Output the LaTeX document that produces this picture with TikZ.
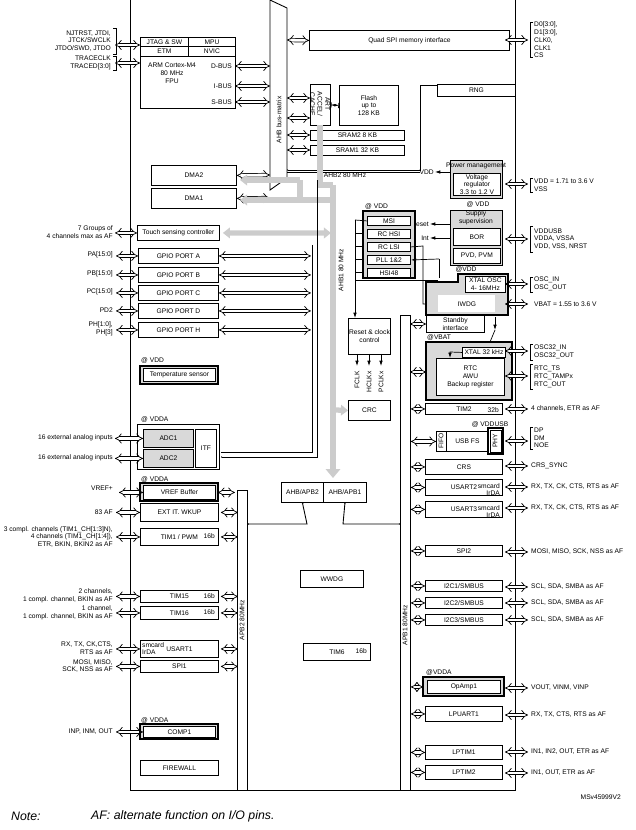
\documentclass[tikz,border=0pt]{standalone}
\usepackage{fontspec}
\setmainfont{Liberation Sans}
\usetikzlibrary{arrows.meta,positioning}
\tikzset{
  every node/.style={font=\fontsize{3.8}{4.4}\selectfont,inner sep=0.5pt},
  blk/.style={draw,line width=0.5pt,fill=white,align=center,inner sep=0pt},
  gblk/.style={draw,line width=0.8pt,fill=gray!30},
  dbl/.style={double distance=1.6pt,line width=0.4pt,{Implies[]}-{Implies[]}},
  gbus/.style={line width=3pt,gray!40},
  sig/.style={line width=0.4pt,-{Latex[length=3pt,width=2pt]}},
  lab/.style={anchor=east,align=right},
  rlab/.style={anchor=west,align=left},
}
% block: [options]{name}{x}{y}{width}{height}{text}
\newcommand\blk[7][]{\node[blk,anchor=north west,minimum width={#5*0.02cm},minimum height={#6*0.02cm},#1] (#2) at (#3,#4) {#7};}

\begin{document}
\begin{tikzpicture}[x=0.02cm,y=-0.02cm]
\useasboundingbox (0,0) rectangle (635,830);
  % chip outline
  \draw[line width=0.5pt] (130,-2) -- (130,790) -- (515,790) -- (515,-2);

  % core and bus matrix
  \blk{jtag}{140}{37}{48}{9}{JTAG \& SW}
  \blk{mpu}{188}{37}{47}{9}{MPU}
  \blk{etm}{140}{46}{48}{10}{ETM}
  \blk{nvic}{188}{46}{47}{10}{NVIC}
  \blk{core}{140}{56}{95}{52}{}
  \node[align=center] at (172,73) {ARM Cortex-M4\\80 MHz\\FPU};
  \node[anchor=east] (dbus) at (233,66) {D-BUS};
  \node[anchor=east] (ibus) at (233,86) {I-BUS};
  \node[anchor=east] (sbus) at (233,102) {S-BUS};
  \draw[line width=0.5pt,fill=white] (270,0) -- (287,8) -- (287,178) -- (270,190) -- cycle;
  \node[rotate=90] (ahbm) at (279,120) {AHB bus-matrix};
  \foreach \y in {66,86,102} \draw[dbl] (235,\y) -- (270,\y);

  \blk{qspi}{309}{30}{200}{20}{Quad SPI memory interface}
  \draw[dbl] (287,40) -- (qspi.west);
  \blk{art}{310}{84}{20}{41}{}
  \node[rotate=-90,align=center] at (320,104) {ART\\ACCEL/\\CACHE};
  \blk{flash}{339}{85}{59}{40}{Flash\\up to\\128 KB}
  \draw[line width=0.4pt,{Bar[width=3pt]Latex[length=2pt]}-{Latex[length=2pt]Bar[width=3pt]}] (art.east) -- (flash.west);
  \blk{sram2}{310}{130}{94}{10}{SRAM2 8 KB}
  \blk{sram1}{310}{145}{94}{10}{SRAM1 32 KB}
  \foreach \y in {98,118,135,150} \draw[dbl] (287,\y) -- (310,\y);
  \blk{rng}{437}{84}{78}{12}{RNG}
  \draw[line width=0.5pt,{Implies[]}-] (287,170) -- (420,170) -- (420,85) -- (437,85);
  \draw[line width=0.5pt] (287,172) -- (420,172);
  \node[anchor=north] at (345,172) {AHB2 80 MHz};

  \blk{dma2}{151}{165}{85}{20}{DMA2}
  \blk{dma1}{151}{188}{85}{20}{DMA1}
  \draw[dbl] (dma2.east) -- (270,175);
  \draw[dbl] (dma1.east) -- (270,198);

  % AHB1 gray bus
  \draw[gbus,-{Triangle[length=5pt,width=8pt]}] (333,185) -- (333,478);
  \draw[gbus] (320,125) -- (320,185) -- (333,185);
  \draw[gbus] (300,180) -- (300,200) -- (333,200);
  \draw[gbus,-{Triangle[length=4pt,width=6pt]}] (300,180) -- (240,180);
  \draw[gbus,-{Triangle[length=4pt,width=6pt]}] (300,200) -- (240,200);
  \node[rotate=90] at (341,270) {AHB1 80 MHz};

  % touch and GPIO
  \blk{tsc}{137}{225}{82}{15}{Touch sensing controller}
  \draw[gbus,{Triangle[length=4pt,width=6pt]}-{Triangle[length=4pt,width=6pt]}] (tsc.east)++(3,0) -- (331,233);
  \foreach \n/\y/\t in {pa/248/A,pb/267/B,pc/285/C,pd/303/D,ph/322/H}{
    \blk{\n}{138}{\y}{80}{15}{GPIO PORT \t}
    \draw[dbl] (\n.east) -- ++(92,0);
    \draw[dbl] (\n.west) -- ++(-22,0);
  }
  \draw[dbl] (tsc.west) -- ++(-22,0);
  \draw[line width=0.5pt] (312,245) -- (312,452) -- (221,452);
  \draw[line width=0.5pt,{Implies[]}-] (221,457) -- (317,457) -- (317,180);
  \node[lab] at (114,232) {7 Groups of\\4 channels max as AF};
  \node[lab] at (114,255) {PA[15:0]};
  \node[lab] at (114,274) {PB[15:0]};
  \node[lab] at (114,292) {PC[15:0]};
  \node[lab] at (114,310) {PD2};
  \node[lab] at (114,329) {PH[1:0],\\PH[3]};

  \node[anchor=west] at (140,361) {@ VDD};
  \draw[gblk] (140,366) rectangle (218,384);
  \blk{temp}{143}{368}{72}{13}{Temperature sensor}

  % ADC
  \node[anchor=west] at (140,420) {@ VDDA};
  \draw[line width=0.5pt] (137,424) rectangle (219,469);
  \blk[fill=gray!30]{adc1}{143}{429}{50}{18}{ADC1}
  \blk[fill=gray!30]{adc2}{143}{449}{50}{18}{ADC2}
  \blk{itf}{195}{429}{21}{38}{ITF}
  \draw[dbl] (adc1.west) -- ++(-28,0);
  \draw[dbl] (adc2.west) -- ++(-28,0);
  \node[lab] at (114,438) {16 external analog inputs};
  \node[lab] at (114,458) {16 external analog inputs};

  % APB2 side
  \blk{apbb}{237}{490}{10}{300}{}
  \node[rotate=90] at (242,620) {APB2 80MHz};
  \node[anchor=west] at (140,480) {@ VDDA};
  \draw[gblk] (140,483) rectangle (218,501);
  \blk{vref}{143}{485}{72}{14}{VREF Buffer}
  \blk{exti}{140}{503}{78}{18}{EXT IT. WKUP}
  \blk{tim1}{140}{528}{78}{17}{TIM1 / PWM}
  \blk{tim15}{140}{590}{78}{12}{TIM15}
  \blk{tim16}{140}{606}{78}{13}{TIM16}
  \blk{usart1}{140}{640}{78}{17}{USART1}
  \blk{spi1}{140}{660}{78}{12}{SPI1}
  \node[anchor=west] at (140,721) {@ VDDA};
  \draw[gblk] (140,724) rectangle (218,739);
  \blk{comp1}{143}{726}{72}{11}{COMP1}
  \blk{fw}{140}{760}{78}{15}{FIREWALL}
  \node[anchor=east] at (216,536) {16b};
  \node[anchor=east] at (216,596) {16b};
  \node[anchor=east] at (216,612) {16b};
  \node[anchor=north west,align=left] at (141,641) {smcard\\IrDA};
  \foreach \n in {vref,exti,tim1,tim15,tim16,usart1,spi1}{
    \draw[dbl] (\n.east)++(2,0) -- ++(17,0);
    \draw[dbl] (\n.west) -- ++(-24,0);
  }
  \draw[dbl] (comp1.west) -- ++(-27,0);
  \node[lab] at (114,488) {VREF+};
  \node[lab] at (114,512) {83 AF};
  \node[lab] at (114,537) {3 compl. channels (TIM1\_CH[1:3]N),\\4 channels (TIM1\_CH[1:4]),\\ETR, BKIN, BKIN2 as AF};
  \node[lab] at (114,596) {2 channels,\\1 compl. channel, BKIN as AF};
  \node[lab] at (114,613) {1 channel,\\1 compl. channel, BKIN as AF};
  \node[lab] at (114,648) {RX, TX, CK,CTS,\\RTS as AF};
  \node[lab] at (114,666) {MOSI, MISO,\\SCK, NSS as AF};
  \node[lab] at (114,732) {INP, INM, OUT};

  % APB1 bus
  \blk{apba}{400}{315}{10}{475}{}
  \node[rotate=90] at (405,625) {APB1 80MHz};

  % bridges
  \blk{apb2br}{281}{482}{42}{20}{AHB/APB2}
  \blk{apb1br}{323}{482}{43}{20}{AHB/APB1}
  \draw[line width=0.5pt,{Implies[]}-{Implies[]}] (apbb.east |- 0,524) -- (307,524) -- (apb2br.south);
  \draw[line width=0.5pt,{Implies[]}-{Implies[]}] (apb1br.south) -- (343,524) -- (apba.west |- 0,524);
  \blk{wwdg}{300}{570}{63}{17}{WWDG}
  \blk{tim6}{303}{643}{67}{17}{TIM6}
  \node[anchor=east] at (368,651) {16b};

  % clocks
  \node[anchor=west] at (364,207) {@ VDD};
  \draw[gblk] (363,211) rectangle (415,278);
  \foreach \n/\y/\t in {msi/216/MSI,hsi/229/RC HSI,lsi/242/RC LSI,pll/255/PLL 1\&2,hsi48/268/HSI48}
    \blk{\n}{367}{\y}{43}{9}{\t};
  \draw[line width=0.4pt] (msi.west) -- (355,220);
  \draw[sig] (355,220) -- (355,318);
  \foreach \y in {233,246,259,272} \draw[line width=0.4pt] (363,\y) -- (355,\y);
  \draw[line width=0.4pt] (355,280) -- (438,280);
  \draw[sig] (lsi.east) -- (423,246) -- (423,304) -- (438,304);
  \draw[sig] (439,259) -- (pll.east);
  \draw[line width=0.4pt] (439,259) -- (439,278);
  \blk{rcc}{348}{318}{42}{36}{Reset \& clock\\control}
  \foreach \x/\t in {357/FCLK,369/HCLKx,381/PCLKx}{
    \draw[sig] (\x,354) -- (\x,366);
    \node[rotate=90,anchor=east] at (\x,370) {\t};
  }
  \blk{crc}{348}{400}{42}{20}{CRC}
  \draw[gbus,-{Triangle[length=4pt,width=6pt]}] (335,410) -- (crc.west);

  % power
  \blk[fill=gray!30,line width=0.8pt]{pwr}{450}{160}{52}{38}{}
  \node at (476,166) {Power management};
  \blk{vreg}{453}{173}{47}{22}{Voltage\\regulator\\3.3 to 1.2 V};
  \draw[sig] (450,172) -- (435,172) node[left] {VDD};
  \node at (478,205) {@ VDD};
  \blk[fill=gray!30,line width=0.8pt]{sup}{450}{210}{52}{55}{}
  \node[align=center] at (476,218) {Supply\\supervision};
  \blk{bor}{453}{228}{47}{17}{BOR}
  \blk{pvd}{453}{248}{47}{15}{PVD, PVM}
  \draw[sig] (450,224) -- (430,224) node[left] {reset};
  \draw[sig] (450,238) -- (430,238) node[left] {Int};

  \node at (466,270) {@VDD};
  \draw[gblk] (458,274) -- (508,274) -- (508,315) -- (426,315) -- (426,282) -- (458,282) -- cycle;
  \blk{xtal}{465}{276}{40}{16}{XTAL OSC\\4- 16MHz}
  \blk[draw=none]{iwdg}{438}{295}{57}{17}{IWDG}
  \blk{stby}{426}{315}{58}{17}{Standby\\interface}
  \node[anchor=west] at (426,338) {@VBAT};
  \draw[gblk] (426,342) rectangle (512,400);
  \blk{x32}{462}{347}{43}{10}{XTAL 32 kHz}
  \blk{rtc}{436}{358}{68}{37}{RTC\\AWU\\Backup register}
  \draw[sig] (x32.west) -- (450,352) -- (450,358);
  \draw[sig] (495,317) -- (495,330);
  \draw[line width=0.4pt] (495,330) -- (490,342);

  % APB1 side
  \draw[dbl] (410,324) -- (426,324);
  \draw[dbl] (410,372) -- (426,372);
  \blk{tim2}{425}{403}{77}{11}{TIM2}
  \node[anchor=east] at (500,410) {32b};
  \node at (490,425) {@ VDDUSB};
  \blk{fifo}{436}{431}{10}{20}{}
  \node[rotate=90] at (441,441) {FIFO};
  \blk{usb}{446}{431}{42}{20}{USB FS}
  \draw[line width=0.8pt] (488,428) rectangle (503,454);
  \blk{phy}{490}{430}{11}{22}{}
  \node[rotate=90] at (495,441) {PHY};
  \blk{crs}{425}{459}{77}{15}{CRS}
  \blk{usart2}{425}{479}{77}{16}{USART2}
  \blk{usart3}{425}{501}{77}{16}{USART3}
  \foreach \y in {482,504} \node[anchor=north east,align=right] at (501,\y) {smcard\\IrDA};
  \blk{spi2}{425}{545}{77}{11}{SPI2}
  \blk{iica}{425}{580}{77}{11}{I2C1/SMBUS}
  \blk{iicb}{425}{597}{77}{11}{I2C2/SMBUS}
  \blk{iicc}{425}{614}{77}{11}{I2C3/SMBUS}
  \node[anchor=west] at (425,673) {@VDDA};
  \draw[gblk] (423,677) rectangle (504,696);
  \blk{opamp}{427}{680}{73}{13}{OpAmp1}
  \blk{lpuart}{425}{706}{77}{15}{LPUART1}
  \blk{lptim1}{425}{745}{77}{14}{LPTIM1}
  \blk{lptim2}{425}{765}{77}{14}{LPTIM2}
  \foreach \n in {tim2,crs,usart2,usart3,spi2,iica,iicb,iicc,lpuart,lptim1,lptim2}
    \draw[dbl] (apba.east |- \n.west) -- (\n.west);
  \draw[dbl] (apba.east |- opamp.west) -- (423,0 |- opamp.west);
  \draw[dbl] (apba.east |- fifo.west) -- (fifo.west);

  % right edge
  \foreach \y in {40,184,239,284,304,351,376,409,441,466,487,508,552,587,603,620,688,715,752,773}
    \draw[dbl] (505,\y) -- (528,\y);
  \foreach \ya/\yb in {22/57,178/192,226/252,277/292,344/360,364/389,427/449}
    \draw[line width=0.5pt] (533,\ya) -- (530,\ya) -- (530,\yb) -- (533,\yb);
  \node[rlab] at (533,40) {D0[3:0],\\D1[3:0],\\CLK0,\\CLK1\\CS};
  \node[rlab] at (533,185) {VDD = 1.71 to 3.6 V\\VSS};
  \node[rlab] at (533,239) {VDDUSB\\VDDA, VSSA\\VDD, VSS, NRST};
  \node[rlab] at (533,284) {OSC\_IN\\OSC\_OUT};
  \node[rlab] at (533,304) {VBAT = 1.55 to 3.6 V};
  \node[rlab] at (533,352) {OSC32\_IN\\OSC32\_OUT};
  \node[rlab] at (533,377) {RTC\_TS\\RTC\_TAMPx\\RTC\_OUT};
  \node[rlab] at (530,409) {4 channels, ETR as AF};
  \node[rlab] at (533,438) {DP\\DM\\NOE};
  \node[rlab] at (530,466) {CRS\_SYNC};
  \node[rlab] at (530,487) {RX, TX, CK, CTS, RTS as AF};
  \node[rlab] at (530,508) {RX, TX, CK, CTS, RTS as AF};
  \node[rlab] at (530,552) {MOSI, MISO, SCK, NSS as AF};
  \foreach \y in {587,603,620} \node[rlab] at (530,\y) {SCL, SDA, SMBA as AF};
  \node[rlab] at (530,688) {VOUT, VINM, VINP};
  \node[rlab] at (530,715) {RX, TX, CTS, RTS as AF};
  \node[rlab] at (530,752) {IN1, IN2, OUT, ETR as AF};
  \node[rlab] at (530,773) {IN1, OUT, ETR as AF};

  % left debug
  \draw[dbl] (115,45) -- (jtag.west |- 0,45);
  \draw[dbl] (115,63) -- (140,63);
  \draw[line width=0.5pt] (113,28) -- (116,28) -- (116,54) -- (113,54);
  \draw[line width=0.5pt] (113,56) -- (116,56) -- (116,70) -- (113,70);
  \node[lab] at (112,41) {NJTRST, JTDI,\\JTCK/SWCLK\\JTDO/SWD, JTDO};
  \node[lab] at (112,63) {TRACECLK\\TRACED[3:0]};

  \node[anchor=east] at (622,797) {MSv45999V2};
  \node[anchor=west,font=\fontsize{7}{8}\selectfont\itshape] at (10,816) {Note:};
  \node[anchor=west,font=\fontsize{7}{8}\selectfont\itshape] at (90,816) {AF: alternate function on I/O pins.};
\end{tikzpicture}
\end{document}
